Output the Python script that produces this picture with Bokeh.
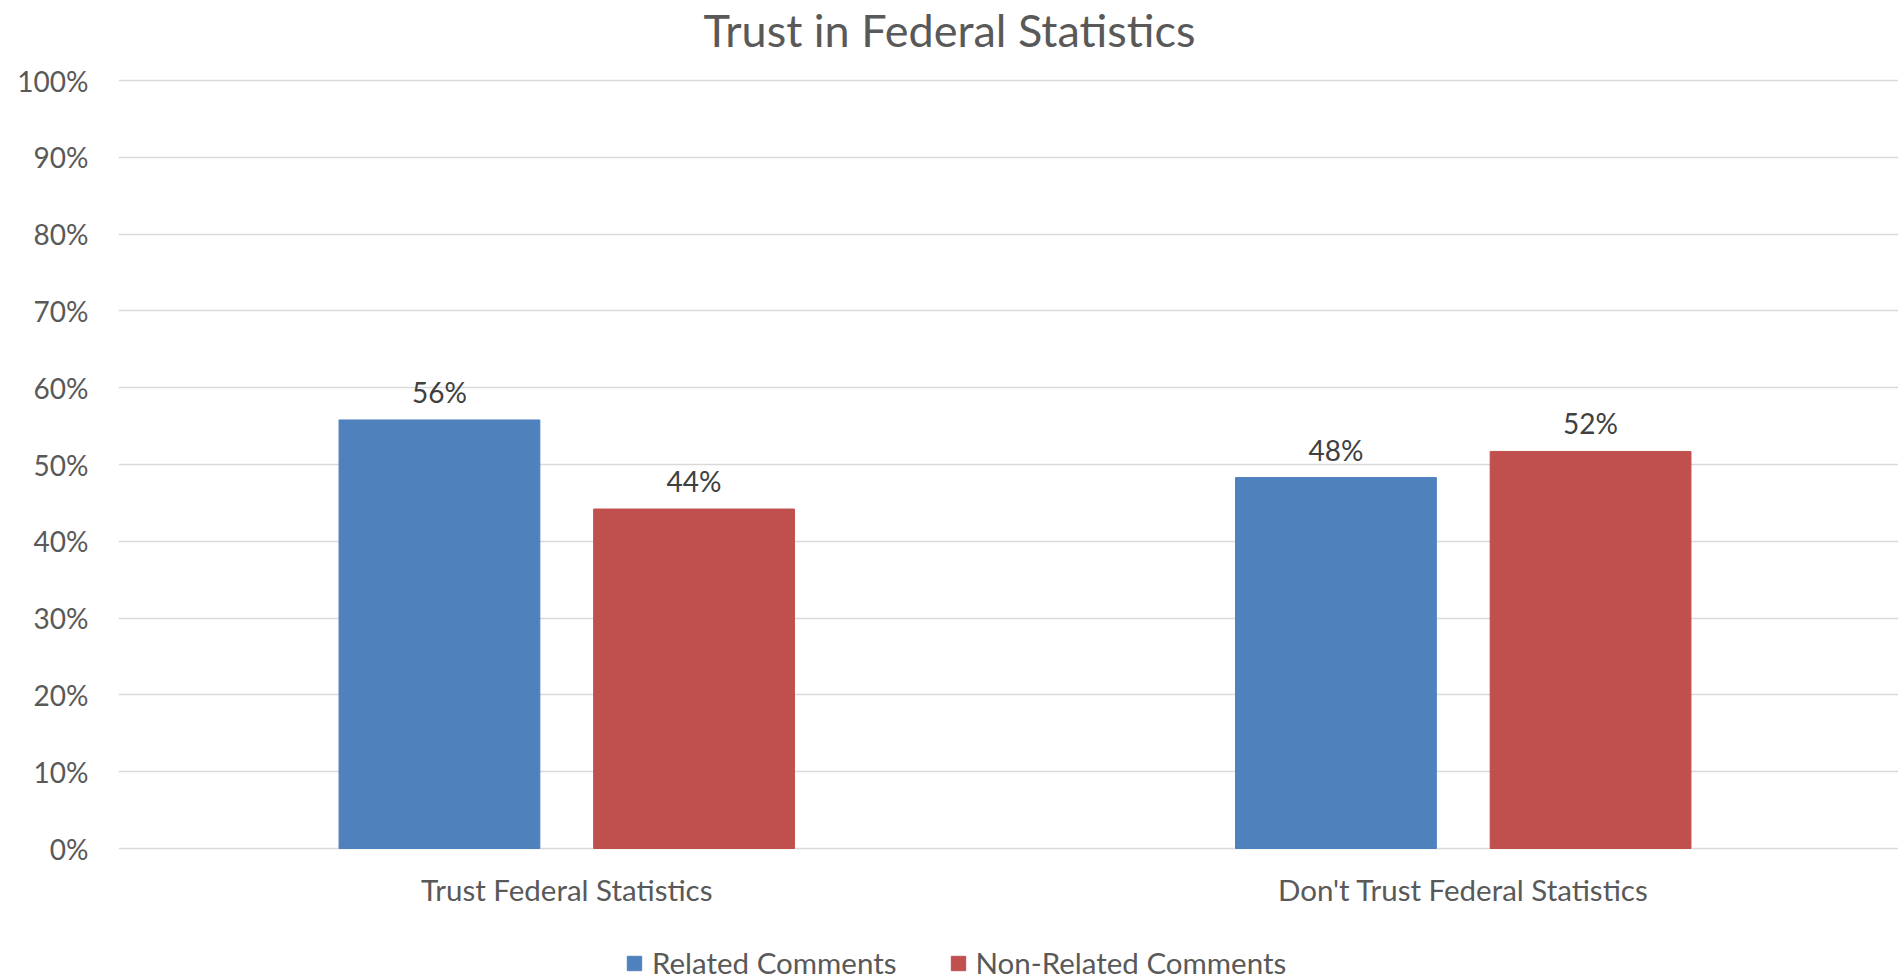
from bokeh.plotting import figure
from bokeh.layouts import column
from bokeh.models import (ColumnDataSource, Range1d, FixedTicker, NumeralTickFormatter,
                          LabelSet, Label, Legend, LegendItem)
from bokeh.core.properties import value
from bokeh.embed import file_html
from bokeh.resources import INLINE

title_text = "Trust in Federal Statistics"
categories = ["Trust Federal Statistics", "Don't Trust Federal Statistics"]
series_names = ["Related Comments", "Non-Related Comments"]
related = [0.558, 0.483]
non_related = [0.442, 0.517]
y_ticks = [0.0, 0.1, 0.2, 0.3, 0.4, 0.5, 0.6, 0.7, 0.8, 0.9, 1.0]

colors = ["#4F81BD", "#C0504D"]
FONT = "Lato"
W = 1898
H_TITLE, H_MAIN, H_LEG = 58, 872, 50
LEFT = 118
TOP = 20
BOTTOM = 80
cat_px = 896.5
frame_w = W - LEFT
pad = 2 / 768.0
offset = 0.142
bar_w = 0.224

# ---- title strip ----
tf = figure(width=W, height=H_TITLE, output_backend="svg", toolbar_location=None,
            x_range=Range1d(0, 1), y_range=Range1d(0, 1),
            x_axis_location=None, y_axis_location=None, min_border=0)
tf.outline_line_color = None
tf.grid.grid_line_color = None
tf.add_layout(Label(x=949 - LEFT, y=29, x_units="screen", y_units="screen",
                    text=title_text, text_align="center", text_baseline="alphabetic",
                    text_font=FONT, text_font_size="45px", text_color="#595959"))

# ---- main chart ----
p = figure(width=W, height=H_MAIN, output_backend="svg", toolbar_location=None,
           x_range=Range1d(0, frame_w / cat_px), y_range=Range1d(-pad, 1.0 + pad),
           min_border_left=LEFT, min_border_right=0, min_border_top=TOP,
           min_border_bottom=BOTTOM)
p.outline_line_color = None
p.background_fill_color = "white"
p.border_fill_color = "white"

sources = []
for s, vals in enumerate([related, non_related]):
    xs = [i + 0.5 + (offset if s else -offset) for i in range(len(categories))]
    src = ColumnDataSource(dict(x=xs, top=vals,
                                lab=["{:.0f}%".format(v * 100) for v in vals]))
    sources.append(src)
    p.vbar(x="x", top="top", width=bar_w, bottom=0, source=src,
           fill_color=colors[s], line_color=colors[s])
    p.add_layout(LabelSet(x="x", y="top", text="lab", source=src, y_offset=28,
                          text_align="center", text_baseline="middle",
                          text_font=value(FONT), text_font_size=value("28px"),
                          text_color=value("#404040")))

p.xaxis.ticker = FixedTicker(ticks=[i + 0.5 for i in range(len(categories))])
p.xaxis.major_label_overrides = {i + 0.5: c for i, c in enumerate(categories)}
p.xaxis.axis_line_color = None
p.xaxis.major_tick_line_color = None
p.xaxis.minor_tick_line_color = None
p.xaxis.major_label_text_font = FONT
p.xaxis.major_label_text_font_size = "29.5px"
p.xaxis.major_label_text_color = "#595959"
p.xaxis.major_label_standoff = 15
p.xgrid.grid_line_color = None

p.yaxis.ticker = FixedTicker(ticks=y_ticks)
p.yaxis.formatter = NumeralTickFormatter(format="0%")
p.yaxis.axis_line_color = None
p.yaxis.major_tick_line_color = None
p.yaxis.minor_tick_line_color = None
p.yaxis.major_label_text_font = FONT
p.yaxis.major_label_text_font_size = "28px"
p.yaxis.major_label_text_color = "#595959"
p.yaxis.major_label_standoff = 24
p.ygrid.ticker = FixedTicker(ticks=y_ticks)
p.ygrid.grid_line_color = "#D9D9D9"
p.ygrid.grid_line_width = 1.5

# ---- legend strip ----
lg = figure(width=W, height=H_LEG, output_backend="svg", toolbar_location=None,
            x_range=Range1d(-3, -2), y_range=Range1d(-3, -2),
            x_axis_location=None, y_axis_location=None, min_border=0)
lg.outline_line_color = None
lg.grid.grid_line_color = None
leg_renderers = [lg.vbar(x="x", top="top", width=bar_w, bottom=0, source=sources[k],
                         fill_color=colors[k], line_color=colors[k])
                 for k in range(2)]
legend = Legend(items=[LegendItem(label=series_names[k], renderers=[leg_renderers[k]])
                       for k in range(2)],
                orientation="horizontal", location=(625 - LEFT, 0),
                glyph_width=18, glyph_height=18, label_standoff=9, spacing=52,
                label_text_font=FONT, label_text_font_size="29.5px",
                label_text_color="#595959", border_line_color=None,
                background_fill_alpha=0, padding=0, margin=0)
lg.add_layout(legend, "center")

layout = column(tf, p, lg, spacing=0)
open("out.html", "w").write(file_html(layout, INLINE))
